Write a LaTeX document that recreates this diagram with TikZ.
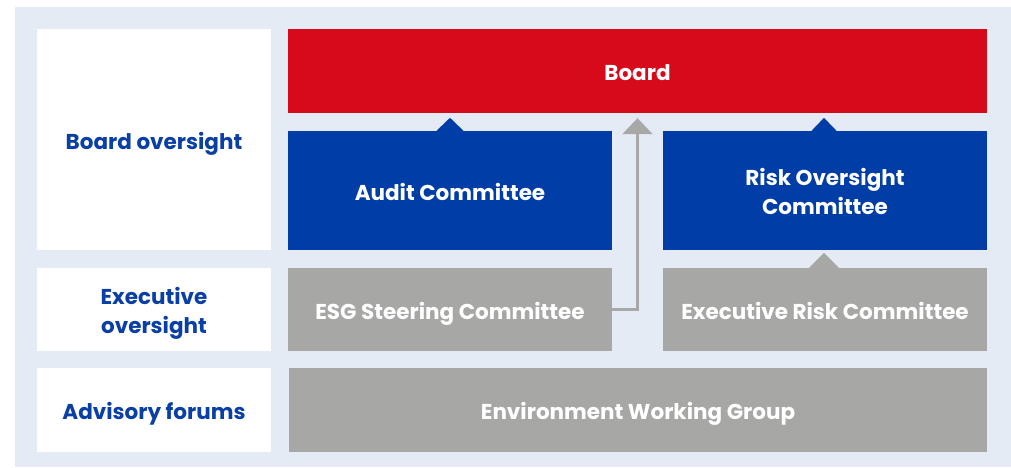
\documentclass[tikz,border=0pt]{standalone}
\usepackage{fontspec}
\setmainfont{Poppins}
\usetikzlibrary{arrows.meta,calc}
\definecolor{bgblue}{HTML}{E5EBF5}
\definecolor{boxred}{HTML}{D70A1C}
\definecolor{boxblue}{HTML}{003DA6}
\definecolor{boxgray}{HTML}{A7A7A6}
\definecolor{txtblue}{HTML}{0A3FA6}
\definecolor{arrgray}{HTML}{A8A8A8}
\tikzset{
  box/.style={inner sep=0pt, align=center, text height=19pt, text depth=0pt,
    font=\fontsize{21.5}{29}\selectfont\bfseries},
  twolines/.style={text height=48pt},
  labelbox/.style={box, fill=white, text=txtblue, minimum width=234pt},
  redbox/.style={box, fill=boxred, text=white},
  bluebox/.style={box, fill=boxblue, text=white, minimum width=324pt, minimum height=119pt},
  graybox/.style={box, fill=boxgray, text=white},
  arrline/.style={draw=arrgray, line width=2.6pt, -{Triangle[width=30pt,length=16pt]}},
}
\begin{document}
\begin{tikzpicture}[x=1pt,y=-1pt]
\useasboundingbox (0,0) rectangle (1011,467);
\fill[bgblue] (15,7) rectangle (1011,467);
% left labels
\node[labelbox, minimum height=221pt] (lboard) at (154,139.5) {Board oversight};
\node[labelbox, twolines, minimum height=83pt] (lexec) at (154,309.5) {Executive\\oversight};
\node[labelbox, minimum height=84pt] (ladv) at (154,410) {Advisory forums};
% boxes
\node[redbox, minimum width=699pt, minimum height=84pt] (board) at (637.5,71) {Board};
\node[bluebox] (audit) at (450,190.5) {Audit Committee};
\node[bluebox, twolines] (risk) at (825,190.5) {Risk Oversight\\Committee};
\node[graybox, minimum width=324pt, minimum height=83pt] (esg) at (450,309.5) {ESG Steering Committee};
\node[graybox, minimum width=324pt, minimum height=83pt] (erc) at (825,309.5) {Executive Risk Committee};
\node[graybox, minimum width=698pt, minimum height=84pt] (env) at (638,410) {Environment Working Group};
% carets
\fill[boxblue] ($(audit.north)+(-13.5,0)$) -- ($(audit.north)+(0,-13)$) -- ($(audit.north)+(13.5,0)$) -- cycle;
\fill[boxblue] ($(risk.north)+(-13.5,-0)$) -- ($(risk.north)+(-1,-13)$) -- ($(risk.north)+(11.5,0)$) -- cycle;
\fill[boxgray] ($(erc.north)+(-16,0)$) -- ($(erc.north)+(-1,-15)$) -- ($(erc.north)+(14,0)$) -- cycle;
% arrow
\coordinate (arrtip) at ($(board.south)+(0,5)$);
\draw[arrline] (esg.east) -| (arrtip);
\end{tikzpicture}
\end{document}
